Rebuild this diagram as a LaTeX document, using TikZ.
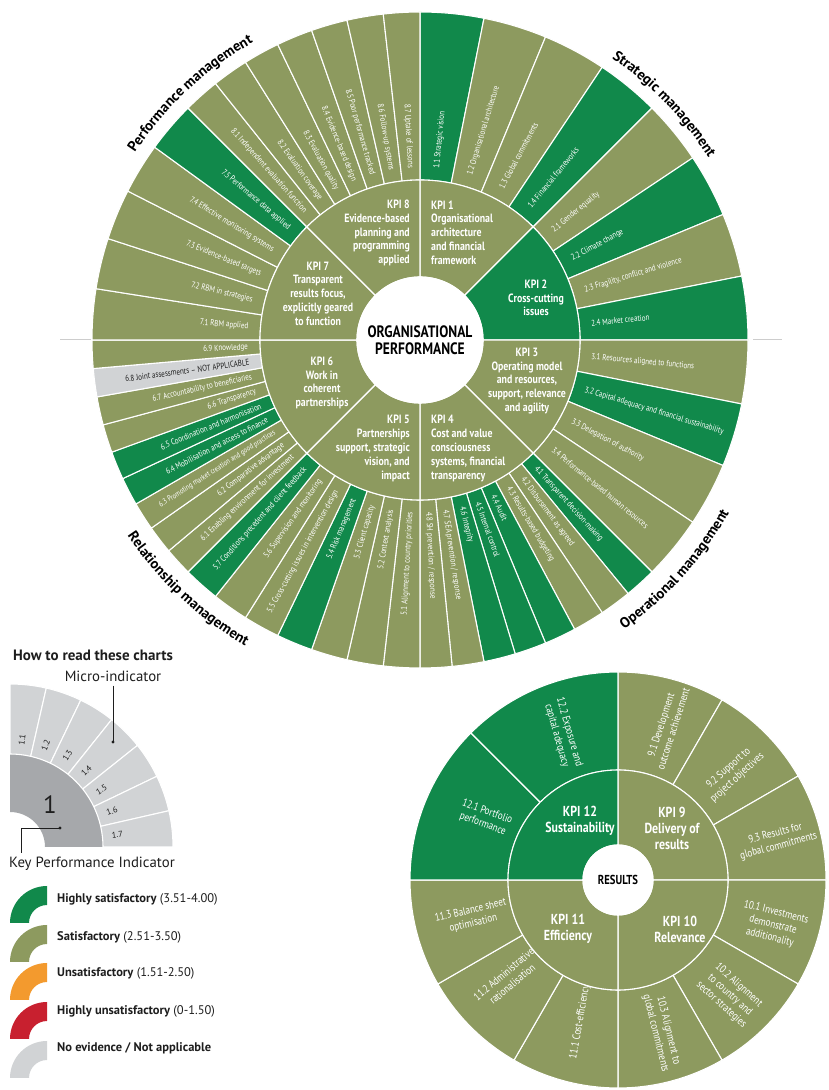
\documentclass[tikz,border=0pt]{standalone}
\usepackage{fontspec}
\setmainfont{PT Sans}
\newfontfamily\condfont[FakeStretch=0.82]{PT Sans}
\usetikzlibrary{decorations.text}
\definecolor{dkgreen}{RGB}{17,137,75}
\definecolor{olive}{RGB}{141,154,95}
\definecolor{nagrey}{RGB}{209,211,213}
\definecolor{kpigrey}{RGB}{166,168,171}
\definecolor{amber}{RGB}{243,154,46}
\definecolor{redc}{RGB}{200,32,47}
\definecolor{lgline}{RGB}{205,205,205}
\definecolor{darktext}{RGB}{30,30,30}
\newcommand\catfont{\fontsize{14.5}{15}\selectfont\bfseries}
\newcommand\mysector[5]{%
  \draw[sep, fill=#5] (#1:#3) -- (#1:#4) arc[start angle=#1, end angle=#2, radius=#4] -- (#2:#3) arc[start angle=#2, end angle=#1, radius=#3] -- cycle;}
\newcommand\microlab[6]{%
  \mysector{#2}{#3}{160}{328}{#4}%
  \pgfmathsetmacro\midang{(#2+#3)/2}%
  \pgfmathtruncatemacro\leftside{(\midang>90)||(\midang<-90)}%
  \ifnum\leftside=1
    \node[mtext, text=#6, rotate=\midang+180, anchor=east] (#1) at (\midang:172) {#5};%
  \else
    \node[mtext, text=#6, rotate=\midang, anchor=west] (#1) at (\midang:172) {#5};%
  \fi}
\newcommand\swatch[2]{%
  \fill[#2] (47,#1+37) arc[start angle=90, end angle=180, radius=37] -- (29,#1) arc[start angle=180, end angle=90, radius=18] -- cycle;}
\begin{document}
\begin{tikzpicture}[x=1pt,y=1pt,
  sep/.style={draw=white, line width=1.1pt, line join=round},
  mtext/.style={font=\condfont\fontsize{8.6}{9.5}\selectfont, inner sep=0pt},
  kpitext/.style={font=\condfont\bfseries\fontsize{12}{13.8}\selectfont, text=white, inner sep=0pt},
  centertext/.style={font=\condfont\bfseries\fontsize{16.5}{17}\selectfont, text=black, align=center, inner sep=0pt},
  smtext/.style={font=\condfont\fontsize{11}{13}\selectfont, text=white, align=center, inner sep=0pt},
  skpitext/.style={font=\condfont\bfseries\fontsize{14.5}{16}\selectfont, text=white, align=center, inner sep=0pt},
  legtext/.style={font=\fontsize{12.5}{14}\selectfont, text=darktext, inner sep=0pt, anchor=west},
  lgnum/.style={font=\fontsize{8.5}{9}\selectfont, text=darktext, inner sep=0pt},
  catdeco/.style={decorate, decoration={text along path, text align=center, text={|\catfont|#1}}}
]
\fill[white] (0,0) rectangle (828,1090);
\useasboundingbox (0,0) rectangle (828,1090);

% grey guide lines
\draw[lgline, line width=1pt] (60,750) -- (91,750);
\draw[lgline, line width=1pt] (753,750) -- (782,750);

% ================= ORGANISATIONAL PERFORMANCE =================
\begin{scope}[shift={(420,750)}]
\microlab{m11}{90}{78.75}{dkgreen}{1.1 Strategic vision}{white}
\microlab{m12}{78.75}{67.5}{olive}{1.2 Organisational architecture}{white}
\microlab{m13}{67.5}{56.25}{olive}{1.3 Global commitments}{white}
\microlab{m14}{56.25}{45}{dkgreen}{1.4 Financial frameworks}{white}
\microlab{m21}{45}{33.75}{olive}{2.1 Gender equality}{white}
\microlab{m22}{33.75}{22.5}{dkgreen}{2.2 Climate change}{white}
\microlab{m23}{22.5}{11.25}{olive}{2.3 Fragility, conflict and violence}{white}
\microlab{m24}{11.25}{0}{dkgreen}{2.4 Market creation}{white}
\microlab{m31}{0}{-11.25}{olive}{3.1 Resources aligned to functions}{white}
\microlab{m32}{-11.25}{-22.5}{dkgreen}{3.2 Capital adequacy and financial sustainability}{white}
\microlab{m33}{-22.5}{-33.75}{olive}{3.3 Delegation of authority}{white}
\microlab{m34}{-33.75}{-45}{olive}{3.4 Performance-based human resources}{white}
\microlab{m41}{-45}{-50.625}{dkgreen}{4.1 Transparent decision-making}{white}
\microlab{m42}{-50.625}{-56.25}{olive}{4.2 Disbursement as agreed}{white}
\microlab{m43}{-56.25}{-61.875}{olive}{4.3 Results-based budgeting}{white}
\microlab{m44}{-61.875}{-67.5}{dkgreen}{4.4 Audit}{white}
\microlab{m45}{-67.5}{-73.125}{dkgreen}{4.5 Internal control}{white}
\microlab{m46}{-73.125}{-78.75}{dkgreen}{4.6 Integrity}{white}
\microlab{m47}{-78.75}{-84.375}{olive}{4.7 SEA prevention / response}{white}
\microlab{m48}{-84.375}{-90}{olive}{4.8 SH prevention / response}{white}
\microlab{m51}{-90}{-96.43}{olive}{5.1 Alignment to country priorities}{white}
\microlab{m52}{-96.43}{-102.86}{olive}{5.2 Context analysis}{white}
\microlab{m53}{-102.86}{-109.29}{olive}{5.3 Client capacity}{white}
\microlab{m54}{-109.29}{-115.71}{dkgreen}{5.4 Risk management}{white}
\microlab{m55}{-115.71}{-122.14}{olive}{5.5 Cross-cutting issues in intervention design}{white}
\microlab{m56}{-122.14}{-128.57}{olive}{5.6 Supervision and monitoring}{white}
\microlab{m57}{-128.57}{-135}{dkgreen}{5.7 Conditions precedent and client feedback}{white}
\microlab{m61}{-135}{-140}{olive}{6.1 Enabling environment for investment}{white}
\microlab{m62}{-140}{-145}{olive}{6.2 Comparative advantage}{white}
\microlab{m63}{-145}{-150}{olive}{\fontsize{7.8}{8}\selectfont 6.3 Promoting market creation and good practices}{white}
\microlab{m64}{-150}{-155}{dkgreen}{6.4 Mobilisation and access to finance}{white}
\microlab{m65}{-155}{-160}{dkgreen}{6.5 Coordination and harmonisation}{white}
\microlab{m66}{-160}{-165}{olive}{6.6 Transparency}{white}
\microlab{m67}{-165}{-170}{olive}{6.7 Accountability to beneficiaries}{white}
\microlab{m68}{-170}{-175}{nagrey}{6.8 Joint assessments – NOT APPLICABLE}{darktext}
\microlab{m69}{-175}{-180}{olive}{6.9 Knowledge}{white}
\microlab{m71}{180}{171}{olive}{7.1 RBM applied}{white}
\microlab{m72}{171}{162}{olive}{7.2 RBM in strategies}{white}
\microlab{m73}{162}{153}{olive}{7.3 Evidence-based targets}{white}
\microlab{m74}{153}{144}{olive}{7.4 Effective monitoring systems}{white}
\microlab{m75}{144}{135}{dkgreen}{7.5 Performance data applied}{white}
\microlab{m81}{135}{128.57}{olive}{8.1 Independent evaluation function}{white}
\microlab{m82}{128.57}{122.14}{olive}{8.2 Evaluation coverage}{white}
\microlab{m83}{122.14}{115.71}{olive}{8.3 Evaluation quality}{white}
\microlab{m84}{115.71}{109.29}{olive}{8.4 Evidence-based design}{white}
\microlab{m85}{109.29}{102.86}{olive}{8.5 Poor performance tracked}{white}
\microlab{m86}{102.86}{96.43}{olive}{8.6 Follow-up systems}{white}
\microlab{m87}{96.43}{90}{olive}{8.7 Uptake of lessons}{white}
% KPI ring
\mysector{90}{45}{63}{160}{olive}
\mysector{45}{0}{63}{160}{dkgreen}
\mysector{0}{-45}{63}{160}{olive}
\mysector{-45}{-90}{63}{160}{olive}
\mysector{-90}{-135}{63}{160}{olive}
\mysector{-135}{-180}{63}{160}{olive}
\mysector{180}{135}{63}{160}{olive}
\mysector{135}{90}{63}{160}{olive}
\node[circle, fill=white, draw=white, line width=1.1pt, minimum size=126pt, centertext] (org) at (0,0) {ORGANISATIONAL\\PERFORMANCE};
% KPI texts
\node[kpitext, anchor=west, align=left] (k1) at (11,107.5) {KPI 1\\Organisational\\architecture\\and financial\\framework};
\node[kpitext, align=center] (k2) at (116,42) {KPI 2\\Cross-cutting\\issues};
\node[kpitext, align=center] (k3) at (107,-41) {KPI 3\\Operating model\\and resources,\\support, relevance\\and agility};
\node[kpitext, anchor=west, align=left] (k4) at (11,-108.5) {KPI 4\\Cost and value\\consciousness\\systems, financial\\transparency};
\node[kpitext, anchor=east, align=right] (k5) at (-10,-108.5) {KPI 5\\Partnerships\\support, strategic\\vision, and\\impact};
\node[kpitext, align=center] (k6) at (-98,-43) {KPI 6\\Work in\\coherent\\partnerships};
\node[kpitext, align=center] (k7) at (-102,46.5) {KPI 7\\Transparent\\results focus,\\explicitly geared\\to function};
\node[kpitext, anchor=east, align=right] (k8) at (-10,107) {KPI 8\\Evidence-based\\planning and\\programming\\applied};
% category labels
\path[catdeco={Performance management}] (156:341) arc[start angle=156, end angle=110, radius=341];
\path[catdeco={Strategic management}] (67:341) arc[start angle=67, end angle=21, radius=341];
\path[catdeco={Relationship management}] (-156:352) arc[start angle=-156, end angle=-110, radius=352];
\path[catdeco={Operational management}] (-65:354) arc[start angle=-65, end angle=-19, radius=354];
\end{scope}

% ================= RESULTS =================
\begin{scope}[shift={(618,210)}]
\mysector{90}{60}{110}{208}{olive}
\mysector{60}{30}{110}{208}{olive}
\mysector{30}{0}{110}{208}{olive}
\mysector{0}{-30}{110}{208}{olive}
\mysector{-30}{-60}{110}{208}{olive}
\mysector{-60}{-90}{110}{208}{olive}
\mysector{-90}{-120}{110}{208}{olive}
\mysector{-120}{-150}{110}{208}{olive}
\mysector{-150}{-180}{110}{208}{olive}
\mysector{180}{135}{110}{208}{dkgreen}
\mysector{135}{90}{110}{208}{dkgreen}
\mysector{90}{0}{35}{110}{olive}
\mysector{0}{-90}{35}{110}{olive}
\mysector{-90}{-180}{35}{110}{olive}
\mysector{180}{90}{35}{110}{dkgreen}
\node[circle, fill=white, draw=white, line width=1.1pt, minimum size=70pt, centertext, font=\condfont\bfseries\fontsize{13}{15}\selectfont] (res) at (0,0) {RESULTS};
\node[skpitext] (s12) at (-38,59) {KPI 12\\Sustainability};
\node[skpitext] (s9) at (54,52) {KPI 9\\Delivery of\\results};
\node[skpitext] (s11) at (-50,-49) {KPI 11\\Efficiency};
\node[skpitext] (s10) at (62,-49) {KPI 10\\Relevance};
\node[smtext, rotate=-74] (s122) at (-55,146) {12.2 Exposure and\\capital adequacy};
\node[smtext, rotate=-20] (s121) at (-133,62) {12.1 Portfolio\\performance};
\node[smtext, rotate=72] (s91) at (49,153) {9.1 Development\\outcome achievement};
\node[smtext, rotate=42] (s92) at (115,107) {9.2 Support to\\project objectives};
\node[smtext, rotate=15] (s93) at (159,40) {9.3 Results for\\global commitments};
\node[smtext, rotate=-14] (s101) at (155,-45) {10.1 Investments\\demonstrate\\additionality};
\node[smtext, rotate=-42] (s102) at (112,-115) {10.2 Alignment\\to country and\\sector strategies};
\node[smtext, rotate=-76] (s103) at (44,-152) {10.3 Alignment to\\global commitments};
\node[smtext, rotate=80] (s111) at (-38,-142) {11.1 Cost-efficiency};
\node[smtext, rotate=40] (s112) at (-110,-99) {11.2 Administrative\\rationalisation};
\node[smtext, rotate=13] (s113) at (-146,-37) {11.3 Balance sheet\\optimisation};
\end{scope}

% ================= LEGEND =================
\node[legtext, font=\bfseries\fontsize{15}{16}\selectfont] (howto) at (13,435) {How to read these charts};
\begin{scope}[shift={(10,243)}]
\fill[kpigrey] (90:35) -- (90:93) arc[start angle=90, end angle=0, radius=93] -- (0:35) arc[start angle=0, end angle=90, radius=35] -- cycle;
\foreach \i in {1,...,7} {
  \pgfmathsetmacro\qa{90-(\i-1)*90/7}
  \pgfmathsetmacro\qb{90-\i*90/7}
  \mysector{\qa}{\qb}{93}{163}{nagrey}
}
\foreach \i in {1,...,7} {
  \pgfmathsetmacro\qm{90-(\i-0.5)*90/7}
  \node[lgnum, rotate=\qm] (q\i) at (\qm:108) {1.\i};
}
\node[font=\fontsize{25}{25}\selectfont, text=darktext, inner sep=0pt] (qk) at (40,42) {1};
\node[legtext, anchor=center, font=\fontsize{14.8}{15}\selectfont] (milab) at (103,171) {Micro-indicator};
\coordinate (mdot) at (103,105);
\draw[darktext, line width=0.7pt] ([yshift=-4pt]milab.south) -- (mdot);
\fill[darktext] (mdot) circle (1.7);
\node[legtext, anchor=center, font=\fontsize{14.8}{15}\selectfont] (klab) at (82,-17) {Key Performance Indicator};
\coordinate (kdot) at (50,19);
\coordinate (kend) at (11,-6);
\draw[darktext, line width=0.7pt] (kdot) -| (kend);
\fill[darktext] (kdot) circle (1.7);
\end{scope}

\swatch{167}{dkgreen}
\swatch{128}{olive}
\swatch{90}{amber}
\swatch{51}{redc}
\swatch{12}{nagrey}
\node[legtext] (l1) at (57,191) {\textbf{Highly satisfactory} (3.51-4.00)};
\node[legtext] (l2) at (57,153) {\textbf{Satisfactory} (2.51-3.50)};
\node[legtext] (l3) at (57,117) {\textbf{Unsatisfactory} (1.51-2.50)};
\node[legtext] (l4) at (57,79) {\textbf{Highly unsatisfactory} (0-1.50)};
\node[legtext] (l5) at (57,42) {\textbf{No evidence / Not applicable}};
\end{tikzpicture}
\end{document}
